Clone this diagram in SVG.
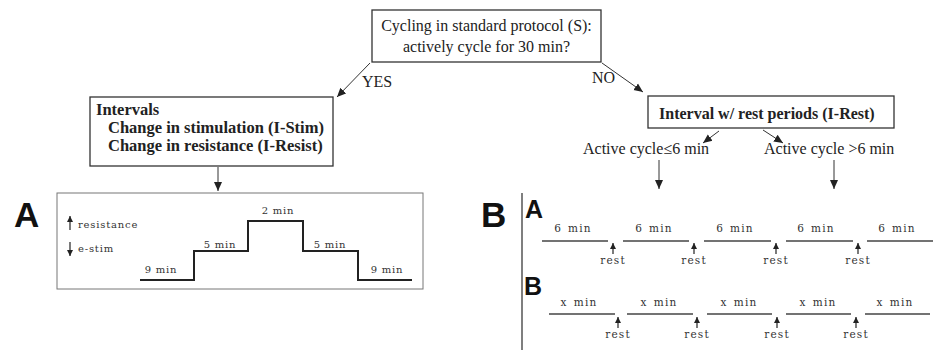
<svg xmlns="http://www.w3.org/2000/svg" width="948" height="350" viewBox="0 0 948 350">
<style>
.serif{font-family:"Liberation Serif","Times New Roman",serif;fill:#222}
.t16{font-size:16px}
.b{font-weight:bold}
.box{fill:#fff;stroke:#333;stroke-width:1.3}
.conn{stroke:#333;stroke-width:1;fill:none}
.big{font-family:"Liberation Sans",Arial,sans-serif;font-weight:bold;fill:#111}
.sm{font-family:"DejaVu Serif","Liberation Serif",serif;font-size:10px;fill:#333;letter-spacing:0.8px}
.tlab{font-family:"DejaVu Serif","Liberation Serif",serif;font-size:10.5px;fill:#333;letter-spacing:1.2px;word-spacing:1.5px}
.step{stroke:#222;stroke-width:2;fill:none}
.tl{stroke:#444;stroke-width:1.5;fill:none}
.sa{stroke:#222;stroke-width:1.2;fill:none}
</style>
<defs>
<marker id="ah" markerWidth="10" markerHeight="10" refX="9" refY="5" orient="auto" markerUnits="userSpaceOnUse">
<path d="M0,1 L9,5 L0,9 Z" fill="#222"/>
</marker>
<marker id="sh" markerWidth="8" markerHeight="8" refX="6" refY="4" orient="auto" markerUnits="userSpaceOnUse">
<path d="M0,1 L6,4 L0,7 Z" fill="#222"/>
</marker>
</defs>

<g id="connectors">
<line class="conn" x1="370" y1="63" x2="337" y2="97" marker-end="url(#ah)"/>
<line class="conn" x1="602" y1="63" x2="643" y2="92" marker-end="url(#ah)"/>
<line class="conn" x1="719" y1="131" x2="703" y2="143" marker-end="url(#ah)"/>
<line class="conn" x1="763" y1="130" x2="783" y2="143" marker-end="url(#ah)"/>
<line class="conn" x1="659" y1="160" x2="659" y2="189" marker-end="url(#ah)"/>
<line class="conn" x1="834" y1="160" x2="834" y2="189" marker-end="url(#ah)"/>
<line class="conn" x1="218" y1="167" x2="218" y2="191" marker-end="url(#ah)"/>
<text class="serif t16" x="362" y="87">YES</text>
<text class="serif t16" x="592" y="83">NO</text>
</g>

<g id="node-start">
<rect class="box" x="372" y="10" width="229" height="52"/>
<text class="serif t16" x="486.5" y="31" text-anchor="middle">Cycling in standard protocol (S):</text>
<text class="serif t16" x="486.5" y="52" text-anchor="middle">actively cycle for 30 min?</text>
</g>

<g id="node-intervals">
<rect class="box" x="90" y="97" width="243" height="69"/>
<text class="serif b" font-size="16.5" x="96" y="115">Intervals</text>
<text class="serif b" font-size="16.5" x="108" y="133">Change in stimulation (I-Stim)</text>
<text class="serif b" font-size="16.5" x="108" y="151">Change in resistance (I-Resist)</text>
</g>

<g id="node-irest">
<rect class="box" x="648" y="96" width="246" height="32"/>
<text class="serif t16 b" x="659" y="119">Interval w/ rest periods (I-Rest)</text>
</g>

<g id="node-le6">
<text class="serif t16" x="583" y="154">Active cycle≤6 min</text>
</g>
<g id="node-gt6">
<text class="serif t16" x="764" y="154">Active cycle &gt;6 min</text>
</g>

<g id="panel-A">
<text class="big" font-size="35" x="14" y="227">A</text>
<rect x="57" y="193" width="366" height="96" fill="#fff" stroke="#777" stroke-width="1"/>
<line class="sa" x1="70" y1="230" x2="70" y2="216" marker-end="url(#sh)"/>
<text class="sm" x="78" y="228">resistance</text>
<line class="sa" x1="70" y1="242" x2="70" y2="256" marker-end="url(#sh)"/>
<text class="sm" x="78" y="252">e-stim</text>
<polyline class="step" points="140,280 194,280 194,251 248,251 248,221 303,221 303,251 358,251 358,280 412,280"/>
<text class="sm" x="161" y="273" text-anchor="middle">9 min</text>
<text class="sm" x="220" y="248" text-anchor="middle">5 min</text>
<text class="sm" x="278" y="214" text-anchor="middle">2 min</text>
<text class="sm" x="330" y="248" text-anchor="middle">5 min</text>
<text class="sm" x="387" y="273" text-anchor="middle">9 min</text>
</g>

<g id="panel-B">
<text class="big" font-size="35" x="481" y="227">B</text>
<line x1="522" y1="193" x2="522" y2="350" stroke="#555" stroke-width="1.5"/>
<text class="big" font-size="25" x="525" y="218">A</text>
<g class="tl">
<line x1="542" y1="241" x2="608" y2="241"/>
<line x1="623" y1="241" x2="689" y2="241"/>
<line x1="704" y1="241" x2="771" y2="241"/>
<line x1="786" y1="241" x2="853" y2="241"/>
<line x1="867" y1="241" x2="933" y2="241"/>
</g>
<text class="tlab" x="573" y="232" text-anchor="middle">6 min</text>
<text class="tlab" x="654" y="232" text-anchor="middle">6 min</text>
<text class="tlab" x="735" y="232" text-anchor="middle">6 min</text>
<text class="tlab" x="816" y="232" text-anchor="middle">6 min</text>
<text class="tlab" x="897" y="232" text-anchor="middle">6 min</text>
<line class="sa" x1="613" y1="254" x2="613" y2="243" marker-end="url(#sh)"/>
<line class="sa" x1="694" y1="254" x2="694" y2="243" marker-end="url(#sh)"/>
<line class="sa" x1="776" y1="254" x2="776" y2="243" marker-end="url(#sh)"/>
<line class="sa" x1="858" y1="254" x2="858" y2="243" marker-end="url(#sh)"/>
<text class="tlab" x="613" y="264" text-anchor="middle">rest</text>
<text class="tlab" x="694" y="264" text-anchor="middle">rest</text>
<text class="tlab" x="776" y="264" text-anchor="middle">rest</text>
<text class="tlab" x="858" y="264" text-anchor="middle">rest</text>

<text class="big" font-size="25" x="524" y="295">B</text>
<g class="tl">
<line x1="549" y1="314" x2="615" y2="314"/>
<line x1="627" y1="314" x2="693" y2="314"/>
<line x1="707" y1="314" x2="772" y2="314"/>
<line x1="786" y1="314" x2="851" y2="314"/>
<line x1="865" y1="314" x2="930" y2="314"/>
</g>
<text class="tlab" x="579" y="306" text-anchor="middle">x min</text>
<text class="tlab" x="659" y="306" text-anchor="middle">x min</text>
<text class="tlab" x="739" y="306" text-anchor="middle">x min</text>
<text class="tlab" x="818" y="306" text-anchor="middle">x min</text>
<text class="tlab" x="895" y="306" text-anchor="middle">x min</text>
<line class="sa" x1="618" y1="328" x2="618" y2="317" marker-end="url(#sh)"/>
<line class="sa" x1="697" y1="328" x2="697" y2="317" marker-end="url(#sh)"/>
<line class="sa" x1="777" y1="328" x2="777" y2="317" marker-end="url(#sh)"/>
<line class="sa" x1="856" y1="328" x2="856" y2="317" marker-end="url(#sh)"/>
<text class="tlab" x="618" y="338" text-anchor="middle">rest</text>
<text class="tlab" x="697" y="338" text-anchor="middle">rest</text>
<text class="tlab" x="777" y="338" text-anchor="middle">rest</text>
<text class="tlab" x="856" y="338" text-anchor="middle">rest</text>
</g>
</svg>
